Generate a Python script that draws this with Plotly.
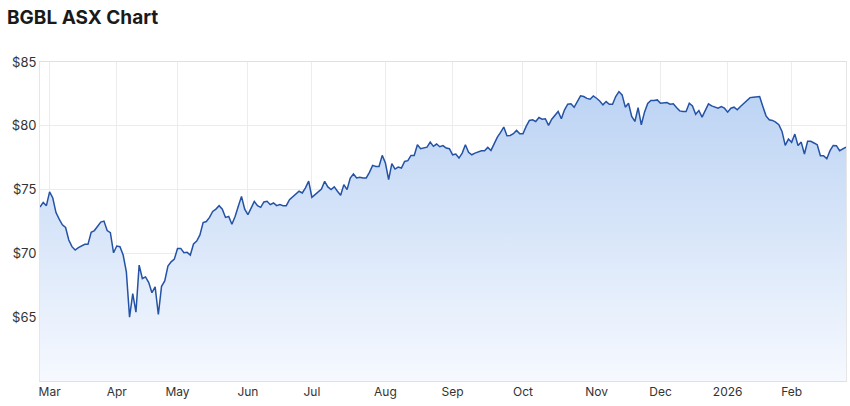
import pandas as pd
import plotly.graph_objects as go

# ---- data -------------------------------------------------------------
START_DATE = "2025-02-26"
END_DATE = "2026-02-25"
ASX_HOLIDAYS = ["2025-04-18", "2025-04-21", "2025-04-25", "2025-06-09",
                "2025-12-25", "2025-12-26", "2026-01-01", "2026-01-26"]

PRICES = [
    73.63, 74.0, 73.74, 74.82, 74.34, 73.2, 72.68, 72.24, 72.03, 71.05,
    70.53, 70.26, 70.45, 70.6, 70.71, 70.71, 71.66, 71.79, 72.16, 72.45,
    72.53, 71.79, 71.63, 70.05, 70.58, 70.53, 69.87, 68.55, 65.0, 66.84,
    65.39, 69.08, 68.03, 68.16, 67.71, 66.92, 67.37, 65.21, 67.42, 67.84,
    69.0, 69.34, 69.55, 70.39, 70.39, 70.05, 70.08, 69.87, 70.74, 70.97,
    71.45, 72.42, 72.5, 72.82, 73.29, 73.47, 73.74, 73.47, 72.82, 72.89,
    72.29, 72.89, 73.7, 74.47, 73.47, 73.03, 73.55, 74.08, 73.74, 73.61,
    74.03, 74.08, 73.82, 73.95, 73.74, 73.82, 73.74, 73.74, 74.21, 74.45,
    74.61, 74.87, 74.74, 75.13, 75.66, 74.4, 74.61, 74.85, 75.05, 75.65,
    75.21, 75.0, 75.21, 74.87, 74.56, 75.39, 75.0, 75.91, 76.22, 75.91,
    75.96, 75.91, 75.91, 76.35, 76.9, 76.82, 76.82, 77.68, 77.08, 75.78,
    77.03, 76.61, 76.77, 76.69, 77.21, 77.27, 77.68, 77.68, 78.52, 78.2,
    78.26, 78.33, 78.72, 78.39, 78.57, 78.36, 78.45, 78.26, 78.2, 77.73,
    77.79, 77.47, 77.86, 78.52, 77.92, 77.73, 77.86, 77.94, 78.05, 78.05,
    78.31, 78.07, 78.57, 79.11, 79.48, 79.9, 79.22, 79.24, 79.38, 79.64,
    79.38, 79.38, 79.95, 80.42, 80.47, 80.34, 80.65, 80.52, 80.55, 80.03,
    80.52, 80.81, 81.12, 80.55, 81.25, 81.69, 81.72, 81.45, 81.9, 82.35,
    82.29, 82.15, 82.08, 82.34, 82.16, 81.95, 81.64, 81.9, 81.69, 81.69,
    82.29, 82.68, 82.42, 81.46, 81.77, 80.73, 80.34, 81.43, 80.08, 81.07,
    81.75, 81.98, 81.98, 82.03, 81.77, 81.77, 81.82, 81.69, 81.72, 81.43,
    81.17, 81.12, 81.12, 81.77, 81.56, 80.91, 81.2, 80.68, 81.25, 81.72,
    81.56, 81.46, 81.38, 81.51, 81.38, 81.07, 81.38, 81.46, 81.25, 81.51,
    81.77, 82.03, 82.21, 82.24, 82.29, 82.29, 81.51, 80.78, 80.47, 80.42,
    80.29, 80.08, 79.56, 78.46, 78.96, 78.7, 79.35, 78.46, 78.72, 77.79,
    78.78, 78.78, 78.65, 78.52, 77.66, 77.66, 77.42, 78.05, 78.46, 78.44,
    78.05, 78.2, 78.33,
]

TICK_DATES = ["2025-03-03", "2025-04-01", "2025-05-01", "2025-06-02",
              "2025-07-01", "2025-08-01", "2025-09-01", "2025-10-01",
              "2025-11-03", "2025-12-01", "2026-01-02", "2026-02-02"]
TICK_LABELS = ["Mar", "Apr", "May", "Jun", "Jul", "Aug", "Sep", "Oct",
               "Nov", "Dec", "2026", "Feb"]

Y_TICKS = [65, 70, 75, 80, 85]
Y_LABELS = ["$65", "$70", "$75", "$80", "$85"]

# trading-day calendar
days = pd.bdate_range(START_DATE, END_DATE)
days = [d.strftime("%Y-%m-%d") for d in days if d.strftime("%Y-%m-%d") not in ASX_HOLIDAYS]
n = min(len(days), len(PRICES))
dates = days[:n]
prices = PRICES[:n]

# ---- figure -----------------------------------------------------------
FONT = "Inter, 'Helvetica Neue', Arial, sans-serif"
GRID = "#ececec"

fig = go.Figure()
fig.add_trace(go.Scatter(
    x=dates, y=prices, mode="lines",
    line=dict(color="#2452a5", width=1.5),
    fill="tozeroy",
    fillgradient=dict(type="vertical", start=60, stop=83.5,
                      colorscale=[[0, "rgb(246,249,255)"],
                                  [1, "rgb(186,210,243)"]]),
    hoverinfo="skip",
))

fig.update_layout(
    width=850, height=406,
    margin=dict(l=40, r=4, t=62, b=25, autoexpand=False),
    paper_bgcolor="white", plot_bgcolor="white",
    showlegend=False,
    font=dict(family=FONT, size=12, color="#333333"),
    title=dict(text="<b>BGBL ASX Chart</b>", xref="container", yref="container",
               x=7 / 850, xanchor="left", y=1 - 17 / 406, yanchor="middle",
               font=dict(family=FONT, size=19, color="#1a1a1a")),
)
fig.update_xaxes(
    type="category", range=[0, n - 1],
    tickvals=TICK_DATES, ticktext=TICK_LABELS,
    showgrid=True, gridcolor=GRID, gridwidth=1,
    showline=True, linecolor="#e0e0e0", linewidth=1, mirror=True,
    ticks="", tickfont=dict(size=12, color="#333333"),
    zeroline=False,
)
fig.update_yaxes(
    range=[60, 85], tickvals=Y_TICKS, ticktext=Y_LABELS,
    showgrid=True, gridcolor=GRID, gridwidth=1,
    showline=True, linecolor="#e6e6e6", linewidth=1, mirror=True,
    ticks="", tickfont=dict(size=13, color="#333333"),
    zeroline=False,
)

fig.write_html(
    "out.html",
    config={"displayModeBar": False},
    post_script="document.body.style.margin='0';document.body.style.overflow='hidden';",
)
